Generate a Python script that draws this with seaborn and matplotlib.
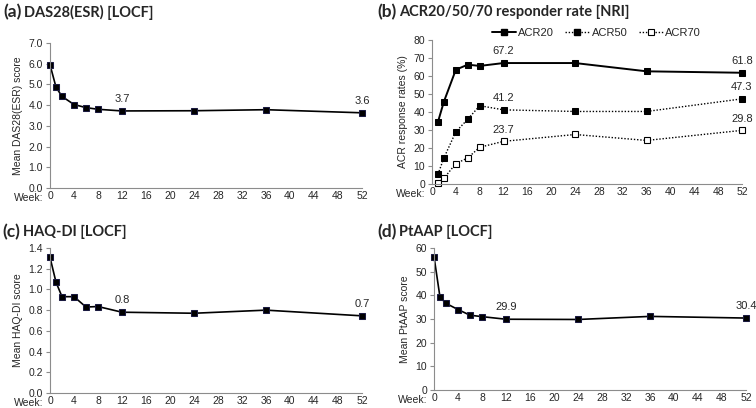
import numpy as np
import pandas as pd
import matplotlib
matplotlib.use('Agg')
import matplotlib.pyplot as plt
import seaborn as sns
from matplotlib.ticker import FormatStrFormatter
from matplotlib.lines import Line2D

# data
weeks = [0, 1, 2, 4, 6, 8, 12, 24, 36, 52]
acr_weeks = [1, 2, 4, 6, 8, 12, 24, 36, 52]

das28 = [5.95, 4.87, 4.42, 4.03, 3.88, 3.80, 3.72, 3.73, 3.78, 3.63]
acr20 = [34.5, 45.8, 63.5, 66.3, 65.6, 67.2, 67.2, 62.6, 61.8]
acr50 = [5.4, 14.5, 29.0, 36.0, 43.5, 41.2, 40.3, 40.3, 47.3]
acr70 = [0.8, 3.2, 11.3, 14.5, 20.4, 23.7, 27.5, 24.2, 29.8]
haq = [1.31, 1.07, 0.93, 0.93, 0.83, 0.835, 0.78, 0.77, 0.80, 0.745]
ptaap = [56.4, 39.2, 36.6, 34.0, 31.6, 31.0, 29.9, 29.8, 31.1, 30.4]

sns.set_style('white')
plt.rcParams['font.family'] = ['Liberation Sans', 'DejaVu Sans']

fig = plt.figure(figsize=(7.56, 4.08), dpi=100)
W, H = 756, 408

def add_ax(l, r, t, b):
    return fig.add_axes([l / W, 1 - b / H, (r - l) / W, (b - t) / H])

ax_a = add_ax(50, 362, 43, 188)
ax_b = add_ax(432, 742, 40, 184)
ax_c = add_ax(50, 362, 248, 393)
ax_d = add_ax(434, 746, 248, 390)

grey = '#8c8c8c'
tick_fs = 7.5

def style_ax(ax, ymax, ystep, fmt, ylabel):
    ax.set_xlim(0, 52)
    ax.set_ylim(0, ymax)
    ax.set_xticks(np.arange(0, 53, 4))
    ax.set_yticks(np.arange(0, ymax + ystep / 2, ystep))
    if fmt:
        ax.yaxis.set_major_formatter(FormatStrFormatter(fmt))
    for s in ['top', 'right']:
        ax.spines[s].set_visible(False)
    for s in ['left', 'bottom']:
        ax.spines[s].set_color(grey)
        ax.spines[s].set_linewidth(0.8)
    ax.tick_params(axis='y', length=3, color=grey, width=0.8, labelsize=tick_fs, pad=2, direction='out', left=True)
    ax.tick_params(axis='x', length=0, labelsize=tick_fs, pad=2.5)
    ax.set_xlabel('')
    ax.set_ylabel(ylabel, fontsize=tick_fs, labelpad=4)
    ax.annotate('Week:', xy=(0, 0), xycoords='axes fraction', xytext=(-5, -3.5),
                textcoords='offset points', ha='right', va='top', fontsize=tick_fs)
    ax.grid(False)

def label(ax, x, y, txt):
    ax.annotate(txt, xy=(x, y), xytext=(0, 8.5), textcoords='offset points',
                ha='center', va='center', fontsize=8, annotation_clip=False)

mk = dict(marker='s', markersize=4.5, markeredgecolor='#1a1a40', markerfacecolor='black',
          color='black', linewidth=1.2)

# (a)
sns.lineplot(x=weeks, y=das28, ax=ax_a, clip_on=False, **mk)
style_ax(ax_a, 7.0, 1.0, '%.1f', 'Mean DAS28(ESR) score')
label(ax_a, 12, das28[6], '3.7')
label(ax_a, 52, das28[-1], '3.6')

# (b)
dot = (0, (1, 1.3))
sns.lineplot(x=acr_weeks, y=acr20, ax=ax_b, clip_on=False, marker='s', markersize=4.5,
             color='black', markerfacecolor='black', markeredgecolor='black', linewidth=1.4)
sns.lineplot(x=acr_weeks, y=acr50, ax=ax_b, clip_on=False, marker='s', markersize=4.5,
             color='black', markerfacecolor='black', markeredgecolor='black', linewidth=1.0,
             linestyle=dot)
sns.lineplot(x=acr_weeks, y=acr70, ax=ax_b, clip_on=False, marker='s', markersize=4.5,
             color='black', markerfacecolor='white', markeredgecolor='black', linewidth=1.0,
             linestyle=dot, markeredgewidth=0.8)
style_ax(ax_b, 80, 10, None, 'ACR response rates (%)')
label(ax_b, 12, acr20[5], '67.2')
label(ax_b, 52, acr20[-1], '61.8')
label(ax_b, 12, acr50[5], '41.2')
label(ax_b, 52, acr50[-1], '47.3')
label(ax_b, 12, acr70[5], '23.7')
label(ax_b, 52, acr70[-1], '29.8')
handles = [
    Line2D([], [], color='black', lw=1.4, marker='s', markersize=4.5),
    Line2D([], [], color='black', lw=1.0, ls=dot, marker='s', markersize=4.5),
    Line2D([], [], color='black', lw=1.0, ls=dot, marker='s', markersize=4.5,
           markerfacecolor='white', markeredgewidth=0.8),
]
ax_b.legend(handles, ['ACR20', 'ACR50', 'ACR70'], ncol=3, frameon=False,
            loc='center', bbox_to_anchor=(0.53, 1.05), fontsize=8,
            handlelength=2.2, handletextpad=0.2, columnspacing=1.0, borderaxespad=0)

# (c)
sns.lineplot(x=weeks, y=haq, ax=ax_c, clip_on=False, **mk)
style_ax(ax_c, 1.4, 0.2, '%.1f', 'Mean HAQ-DI score')
label(ax_c, 12, haq[6], '0.8')
label(ax_c, 52, haq[-1], '0.7')

# (d)
sns.lineplot(x=weeks, y=ptaap, ax=ax_d, clip_on=False, **mk)
style_ax(ax_d, 60, 10, None, 'Mean PtAAP score')
label(ax_d, 12, ptaap[6], '29.9')
label(ax_d, 52, ptaap[-1], '30.4')

# panel titles
title_font = ['Lato', 'DejaVu Sans']
for x, y, tag, txt in [(3, 12, '(a)', 'DAS28(ESR) [LOCF]'),
                       (377, 12, '(b)', 'ACR20/50/70 responder rate [NRI]'),
                       (2, 232, '(c)', 'HAQ-DI [LOCF]'),
                       (377, 232, '(d)', 'PtAAP [LOCF]')]:
    t = fig.text(x / W, 1 - y / H, tag, fontsize=12.5, fontweight='bold',
                 family=title_font, va='center', ha='left')
    fig.canvas.draw()
    bb = t.get_window_extent()
    fig.text((bb.x1 + 3) / W, 1 - y / H, txt, fontsize=10.5, fontweight='bold',
             family=title_font, va='center', ha='left')

fig.savefig('out.png', dpi=100)
